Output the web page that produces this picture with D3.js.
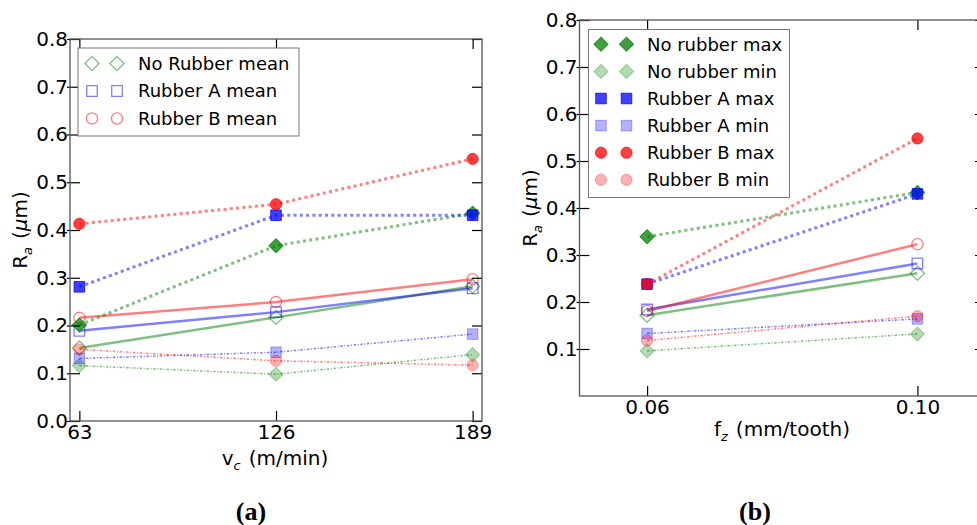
<!DOCTYPE html>
<html>
<head>
<meta charset="utf-8">
<script src="https://cdn.jsdelivr.net/npm/d3@7"></script>
<style>
  body { margin: 0; background: #fff; }
  svg { display: block; }
</style>
</head>
<body>
<svg id="fig" width="977" height="525" font-family="DejaVu Sans, sans-serif"></svg>
<script>
// ---- data: surface roughness Ra (µm) ----
const yTickValues = [0, 0.1, 0.2, 0.3, 0.4, 0.5, 0.6, 0.7, 0.8];
const yTickValuesB = [0.1, 0.2, 0.3, 0.4, 0.5, 0.6, 0.7, 0.8];

// (a) versus cutting speed vc (m/min)
const vcTicks = [63, 126, 189];
const vcNoRubberMean = [0.153, 0.217, 0.282];
const vcRubberAMean  = [0.189, 0.228, 0.278];
const vcRubberBMean  = [0.216, 0.249, 0.297];
const vcNoRubberMax  = [0.201, 0.367, 0.435];
const vcRubberAMax   = [0.281, 0.431, 0.431];
const vcRubberBMax   = [0.413, 0.454, 0.549];
const vcNoRubberMin  = [0.116, 0.098, 0.139];
const vcRubberAMin   = [0.131, 0.144, 0.182];
const vcRubberBMin   = [0.150, 0.126, 0.117];

// (b) versus feed per tooth fz (mm/tooth)
const fzTicks = [0.06, 0.10];
const fzNoRubberMean = [0.172, 0.261];
const fzRubberAMean  = [0.184, 0.282];
const fzRubberBMean  = [0.181, 0.323];
const fzNoRubberMax  = [0.339, 0.433];
const fzRubberAMax   = [0.238, 0.430];
const fzRubberBMax   = [0.238, 0.548];
const fzNoRubberMin  = [0.096, 0.132];
const fzRubberAMin   = [0.133, 0.164];
const fzRubberBMin   = [0.118, 0.170];

const legendA = ["No Rubber mean", "Rubber A mean", "Rubber B mean"];
const legendB = ["No rubber max", "No rubber min", "Rubber A max", "Rubber A min", "Rubber B max", "Rubber B min"];

// ---- styles ----
const GREEN = "#008000", BLUE = "#0000ff", RED = "#ff0000";
const styles = {
  mean: { dash: null, lw: 2.5, lineOp: 0.5, fill: "none", fillOp: 0, strokeOp: 0.5, mlw: 1.3 },
  max:  { dash: "3,3.3", lw: 3, lineOp: 0.5, fill: "c", fillOp: 0.75, strokeOp: 0.75, mlw: 1 },
  min:  { dash: "2.5,1.6,1,1.6", lw: 1.5, lineOp: 0.5, fill: "c", fillOp: 0.3, strokeOp: 0.3, mlw: 1 }
};
const shapes = {
  diamond: d3.symbol().type(d3.symbolSquare).size(100),
  square:  d3.symbol().type(d3.symbolSquare).size(112),
  circle:  d3.symbol().type(d3.symbolCircle).size(98)
};

const svg = d3.select("#fig");

function drawMarker(g, x, y, shape, color, st) {
  g.append("path")
    .attr("d", shapes[shape]())
    .attr("transform", `translate(${x},${y})` + (shape === "diamond" ? " rotate(45)" : ""))
    .attr("fill", st.fill === "none" ? "none" : color)
    .attr("fill-opacity", st.fillOp)
    .attr("stroke", color)
    .attr("stroke-opacity", st.strokeOp)
    .attr("stroke-width", st.mlw);
}

function panel(cfg) {
  const { x, y, xs, series, xTickVals, xFmt, yTickVals } = cfg;
  const g = svg.append("g");
  const [x0, x1] = x.range();
  const [y0, y1] = y.range();

  // lines and markers
  const plot = g.append("g");
  series.forEach(s => {
    const st = styles[s.kind];
    const line = d3.line().x((d, i) => x(xs[i])).y(d => y(d));
    plot.append("path")
      .datum(s.values)
      .attr("d", line)
      .attr("fill", "none")
      .attr("stroke", s.color)
      .attr("stroke-opacity", st.lineOp)
      .attr("stroke-width", st.lw)
      .attr("stroke-dasharray", st.dash);
    s.values.forEach((v, i) => drawMarker(plot, x(xs[i]), y(v), s.shape, s.color, st));
  });

  // axes: inward ticks on all four sides
  g.append("g").attr("transform", `translate(0,${y0})`)
    .call(d3.axisBottom(x).tickValues(xTickVals).tickFormat(xFmt).tickSize(-10).tickPadding(4));
  g.append("g").attr("transform", `translate(0,${y1})`)
    .call(d3.axisTop(x).tickValues(xTickVals).tickFormat("").tickSize(-10));
  g.append("g").attr("transform", `translate(${x0},0)`)
    .call(d3.axisLeft(y).tickValues(yTickVals).tickFormat(d3.format(".1f")).tickSize(-10).tickPadding(2));
  g.append("g").attr("transform", `translate(${x0},0)`)
    .call(d3.axisLeft(y).tickValues(yTickVals).tickFormat("").tickSize(3));
  g.append("g").attr("transform", `translate(${x1},0)`)
    .call(d3.axisRight(y).tickValues(yTickVals).tickFormat("").tickSize(-10));
  g.selectAll(".domain").remove();
  g.selectAll(".tick line").attr("stroke", "#000").attr("stroke-width", 1.2);
  g.selectAll(".tick text").attr("font-size", 20).attr("font-family", "DejaVu Sans, sans-serif").attr("fill", "#000");

  // frame
  g.append("rect")
    .attr("x", x0).attr("y", y1).attr("width", x1 - x0).attr("height", y0 - y1)
    .attr("fill", "none").attr("stroke", "#555").attr("stroke-width", 1.3);
  return g;
}

function labelSub(g, main, sub, rest, italicMu) {
  const t = g.append("text").attr("font-size", 20);
  t.append("tspan").text(main);
  t.append("tspan").attr("font-size", 13).attr("font-style", "italic").attr("dy", 5).text(sub);
  if (italicMu) {
    t.append("tspan").attr("dy", -5).attr("dx", 8).text("(");
    t.append("tspan").attr("font-style", "italic").text("μ");
    t.append("tspan").text("m)");
  } else {
    t.append("tspan").attr("dy", -5).attr("dx", 8).text(rest);
  }
  return t;
}

function legend(g, box, entries, series) {
  const lg = g.append("g");
  lg.append("rect")
    .attr("x", box.x).attr("y", box.y).attr("width", box.w).attr("height", box.h)
    .attr("fill", "#fff").attr("stroke", "#777").attr("stroke-width", 1);
  entries.forEach((name, i) => {
    const s = series[i];
    const yy = box.row0 + i * box.step;
    box.mx.forEach(mx => drawMarker(lg, mx, yy, s.shape, s.color, styles[s.kind]));
    lg.append("text").attr("x", box.tx).attr("y", yy).attr("dy", "0.36em")
      .attr("font-size", 18).text(name);
  });
}

function caption(g, x, txt) {
  g.append("text").attr("x", x).attr("y", 520).attr("text-anchor", "middle")
    .attr("font-family", "Liberation Serif, serif").attr("font-weight", "bold")
    .attr("font-size", 26).text(txt);
}

// ---- panel (a) ----
const xA = d3.scaleLinear().domain([60, 192]).range([70, 482]);
const yA = d3.scaleLinear().domain([0, 0.8]).range([421, 39]);
const seriesA = [
  { values: vcNoRubberMean, color: GREEN, shape: "diamond", kind: "mean" },
  { values: vcRubberAMean,  color: BLUE,  shape: "square",  kind: "mean" },
  { values: vcRubberBMean,  color: RED,   shape: "circle",  kind: "mean" },
  { values: vcNoRubberMax,  color: GREEN, shape: "diamond", kind: "max" },
  { values: vcRubberAMax,   color: BLUE,  shape: "square",  kind: "max" },
  { values: vcRubberBMax,   color: RED,   shape: "circle",  kind: "max" },
  { values: vcNoRubberMin,  color: GREEN, shape: "diamond", kind: "min" },
  { values: vcRubberAMin,   color: BLUE,  shape: "square",  kind: "min" },
  { values: vcRubberBMin,   color: RED,   shape: "circle",  kind: "min" }
];
const gA = panel({ x: xA, y: yA, xs: vcTicks, series: seriesA, xTickVals: vcTicks,
  xFmt: d3.format("d"), yTickVals: yTickValues });
legend(gA, { x: 78, y: 48, w: 221, h: 88, row0: 63.5, step: 27.5, mx: [92, 117], tx: 138 },
  legendA, seriesA.slice(0, 3));
labelSub(gA, "v", "c", "(m/min)").attr("x", 275).attr("y", 465).attr("text-anchor", "middle");
labelSub(gA, "R", "a", "", true).attr("transform", "translate(27,230) rotate(-90)").attr("text-anchor", "middle");
caption(gA, 251, "(a)");

// ---- panel (b) ----
const xB = d3.scaleLinear().domain([0.05, 0.11]).range([579.5, 985]);
const yB = d3.scaleLinear().domain([0, 0.8]).range([396, 20]);
const seriesB = [
  { values: fzNoRubberMean, color: GREEN, shape: "diamond", kind: "mean" },
  { values: fzRubberAMean,  color: BLUE,  shape: "square",  kind: "mean" },
  { values: fzRubberBMean,  color: RED,   shape: "circle",  kind: "mean" },
  { values: fzNoRubberMax,  color: GREEN, shape: "diamond", kind: "max" },
  { values: fzNoRubberMin,  color: GREEN, shape: "diamond", kind: "min" },
  { values: fzRubberAMax,   color: BLUE,  shape: "square",  kind: "max" },
  { values: fzRubberAMin,   color: BLUE,  shape: "square",  kind: "min" },
  { values: fzRubberBMax,   color: RED,   shape: "circle",  kind: "max" },
  { values: fzRubberBMin,   color: RED,   shape: "circle",  kind: "min" }
];
const gB = panel({ x: xB, y: yB, xs: fzTicks, series: seriesB, xTickVals: fzTicks,
  xFmt: d3.format(".2f"), yTickVals: yTickValuesB });
legend(gB, { x: 588.5, y: 29.5, w: 201, h: 168, row0: 44.3, step: 27.1, mx: [601, 626.5], tx: 647 },
  legendB, seriesB.slice(3));
labelSub(gB, "f", "z", "(mm/tooth)").attr("x", 782).attr("y", 436).attr("text-anchor", "middle");
labelSub(gB, "R", "a", "", true).attr("transform", "translate(537,208) rotate(-90)").attr("text-anchor", "middle");
caption(gB, 755, "(b)");
</script>
</body>
</html>
